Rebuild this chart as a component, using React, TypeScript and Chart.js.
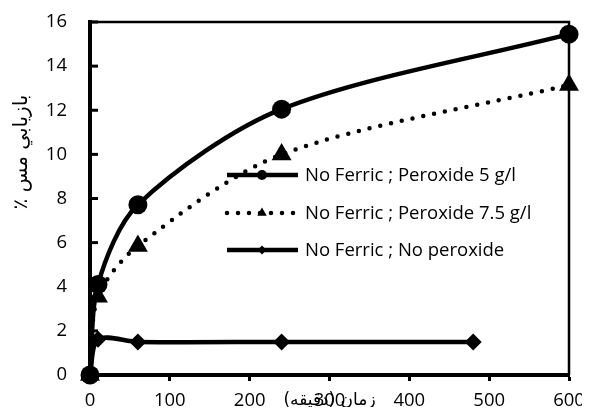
import React, { useEffect, useRef } from "react";
import { Chart, registerables } from "chart.js";

Chart.register(...registerables);

const times5 = [0, 10, 60, 240, 600];
const recovery5 = [0, 4.1, 7.72, 12.05, 15.45];
const times75 = [0, 10, 60, 240, 600];
const recovery75 = [0, 3.55, 5.85, 10.0, 13.15];
const timesNone = [0, 10, 60, 240, 480];
const recoveryNone = [0, 1.62, 1.5, 1.5, 1.5];
const seriesLabels = [
  "No Ferric ; Peroxide 5 g/l",
  "No Ferric ; Peroxide 7.5 g/l",
  "No Ferric ; No peroxide",
];
const xTitle = "زمان (دقيقه)";
const yTitle = "بازيابي مس ٪";
const xTicks = [0, 100, 200, 300, 400, 500, 600];
const yTicks = [0, 2, 4, 6, 8, 10, 12, 14, 16];

const FONT = "'Open Sans', Lato, sans-serif";
const ARFONT = "'DejaVu Sans', sans-serif";

function toPoints(xs: number[], ys: number[]) {
  return xs.map((x, i) => ({ x, y: ys[i] }));
}

function drawMarker(ctx: CanvasRenderingContext2D, style: string, x: number, y: number, r: number) {
  ctx.beginPath();
  if (style === "circle") {
    ctx.arc(x, y, r, 0, Math.PI * 2);
  } else if (style === "triangle") {
    const h = r * 1.5;
    const w = r * Math.sqrt(3);
    ctx.moveTo(x, y - r);
    ctx.lineTo(x + w / 2, y - r + h);
    ctx.lineTo(x - w / 2, y - r + h);
    ctx.closePath();
  } else {
    ctx.moveTo(x - r, y);
    ctx.lineTo(x, y - r);
    ctx.lineTo(x + r, y);
    ctx.lineTo(x, y + r);
    ctx.closePath();
  }
  ctx.fill();
}

const decorPlugin = {
  id: "decor",
  afterDraw(chart: any) {
    const ctx: CanvasRenderingContext2D = chart.ctx;
    const a = chart.chartArea;
    const yScale = chart.scales.y;
    ctx.save();
    ctx.strokeStyle = "#000";
    ctx.lineWidth = 2.5;
    ctx.beginPath();
    ctx.moveTo(a.left, a.top);
    ctx.lineTo(a.right, a.top);
    ctx.lineTo(a.right, a.bottom);
    ctx.stroke();
    ctx.lineWidth = 3;
    yTicks.forEach((v) => {
      if (v === 0) return;
      const py = yScale.getPixelForValue(v);
      ctx.beginPath();
      ctx.moveTo(a.left, py);
      ctx.lineTo(a.left + 8, py);
      ctx.stroke();
    });
    const styles = ["circle", "triangle", "rectRot"];
    const mr = [5, 5.5, 4.5];
    const rows = [167, 205, 242];
    const x0 = 219, x1 = 290, xm = 254, xt = 297;
    chart.data.datasets.forEach((ds: any, i: number) => {
      const y = rows[i];
      ctx.strokeStyle = "#000";
      ctx.fillStyle = "#000";
      ctx.lineWidth = ds.borderWidth;
      ctx.lineCap = ds.borderCapStyle || "butt";
      ctx.setLineDash(ds.borderDash || []);
      ctx.beginPath();
      ctx.moveTo(x0, y);
      ctx.lineTo(x1, y);
      ctx.stroke();
      ctx.setLineDash([]);
      drawMarker(ctx, styles[i], xm, y, mr[i]);
      ctx.font = `18.5px ${FONT}`;
      ctx.textAlign = "left";
      ctx.textBaseline = "middle";
      ctx.fillText(ds.label, xt, y + 1);
    });
    ctx.fillStyle = "#000";
    ctx.font = `17px ${ARFONT}`;
    (ctx as any).direction = "rtl";
    ctx.textAlign = "center";
    ctx.textBaseline = "middle";
    ctx.fillText(xTitle, (a.left + a.right) / 2, 393);
    ctx.translate(14, 144);
    ctx.rotate(-Math.PI / 2);
    ctx.font = `20px ${ARFONT}`;
    ctx.fillText(yTitle, 0, 0);
    ctx.restore();
  },
};

export default function App() {
  const ref = useRef<HTMLCanvasElement | null>(null);
  useEffect(() => {
    if (!ref.current) return;
    const chart = new Chart(ref.current, {
      type: "line",
      data: {
        datasets: [
          {
            label: seriesLabels[0],
            data: toPoints(times5, recovery5),
            borderColor: "#000",
            backgroundColor: "#000",
            borderWidth: 4.5,
            pointStyle: "circle",
            pointRadius: 9.5,
            pointBorderWidth: 0,
            tension: 0.3,
            clip: 14,
          },
          {
            label: seriesLabels[1],
            data: toPoints(times75, recovery75),
            borderColor: "#000",
            backgroundColor: "#000",
            borderWidth: 4.5,
            borderDash: [0, 11],
            borderCapStyle: "round",
            pointStyle: "triangle",
            pointRadius: 11.5,
            pointBorderWidth: 0,
            tension: 0.3,
            clip: 14,
          },
          {
            label: seriesLabels[2],
            data: toPoints(timesNone, recoveryNone),
            borderColor: "#000",
            backgroundColor: "#000",
            borderWidth: 4.5,
            pointStyle: "rectRot",
            pointRadius: 8.5,
            pointBorderWidth: 0,
            tension: 0.3,
            clip: 14,
          },
        ] as any,
      },
      options: {
        animation: false,
        responsive: false,
        devicePixelRatio: 1,
        layout: { padding: { top: 14, right: 13, left: 0, bottom: 0 } },
        plugins: { legend: { display: false }, tooltip: { enabled: false } },
        scales: {
          x: {
            type: "linear",
            min: 0,
            max: 600,
            afterBuildTicks: (s: any) => {
              s.ticks = xTicks.map((v) => ({ value: v }));
            },
            afterFit: (s: any) => {
              s.height = 32;
              s.paddingLeft = 0;
              s.paddingRight = 0;
            },
            ticks: { color: "#000", font: { family: FONT, size: 18.5 }, padding: 9, maxRotation: 0, autoSkip: false },
            grid: { display: true, drawOnChartArea: false, drawTicks: true, tickLength: 6, tickWidth: 3, tickColor: "#000" },
            border: { display: true, width: 4, color: "#000" },
          },
          y: {
            type: "linear",
            min: 0,
            max: 16,
            afterBuildTicks: (s: any) => {
              s.ticks = yTicks.map((v) => ({ value: v }));
            },
            afterFit: (s: any) => {
              s.width = 82;
              s.paddingTop = 0;
              s.paddingBottom = 0;
            },
            ticks: { color: "#000", font: { family: FONT, size: 18.5 }, padding: 23, autoSkip: false },
            grid: { display: false, drawTicks: false },
            border: { display: true, width: 4, color: "#000" },
          },
        },
      } as any,
      plugins: [decorPlugin],
    });
    return () => chart.destroy();
  }, []);
  return (
    <div style={{ width: 574, height: 399 }}>
      <canvas ref={ref} width={574} height={399} style={{ display: "block" }} />
    </div>
  );
}
